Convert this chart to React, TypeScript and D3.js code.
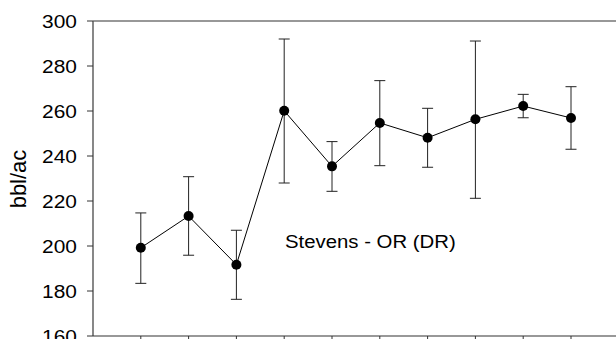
import React from "react";
import * as d3 from "d3";

// Yield by treatment, with error bar bounds
const positions = [1, 2, 3, 4, 5, 6, 7, 8, 9, 10];
const means = [199.2, 213.3, 191.7, 260.1, 235.4, 254.7, 248.1, 256.3, 262.2, 256.9];
const upper = [214.7, 230.8, 207.0, 292.0, 246.4, 273.5, 261.2, 291.1, 267.4, 270.8];
const lower = [183.4, 195.9, 176.3, 228.0, 224.3, 235.7, 235.0, 221.2, 257.0, 243.0];
const yTicks = [160, 180, 200, 220, 240, 260, 280, 300];
const yLabel = "bbl/ac";
const annotation = "Stevens - OR (DR)";

const W = 616;
const H = 339;
const left = 93;
const top = 21;
const bottom = 336;
const step = 47.8;

export default function App() {
  const x = d3.scaleLinear().domain([0, 11]).range([left, left + 11 * step]);
  const y = d3.scaleLinear().domain([160, 300]).range([bottom, top]);
  const line = d3
    .line<number>()
    .x((_, i) => x(positions[i]))
    .y((d) => y(d));
  const font = "'Liberation Sans', Arial, sans-serif";
  const sx = 1.1;

  return (
    <svg
      width={W}
      height={H}
      style={{ position: "absolute", left: 0, top: 0, background: "#fff" }}
      fontFamily={font}
    >
      {/* frame: top and left edges, bottom axis */}
      <line x1={left} x2={W} y1={top} y2={top} stroke="#333" strokeWidth={1.2} />
      <line x1={left} x2={left} y1={top} y2={bottom} stroke="#555" strokeWidth={1.4} />
      <line x1={left} x2={W} y1={bottom} y2={bottom} stroke="#333" strokeWidth={1.2} />

      {/* y axis ticks and labels */}
      {yTicks.map((t) => (
        <g key={t}>
          <line x1={left - 6} x2={left} y1={y(t)} y2={y(t)} stroke="#333" strokeWidth={1} />
          <text
            transform={`translate(${left - 16},${y(t)}) scale(${sx},1)`}
            textAnchor="end"
            dy="0.35em"
            fontSize={19}
            fill="#000"
          >
            {t}
          </text>
        </g>
      ))}

      {/* x axis ticks */}
      {positions.map((p) => (
        <line key={p} x1={x(p)} x2={x(p)} y1={bottom} y2={bottom + 6} stroke="#333" strokeWidth={1} />
      ))}

      {/* y label */}
      <text
        transform="translate(26,179) rotate(-90)"
        textAnchor="middle"
        fontSize={22}
        fill="#000"
      >
        {yLabel}
      </text>

      {/* error bars */}
      {positions.map((p, i) => (
        <g key={p} stroke="#222" strokeWidth={1}>
          <line x1={x(p)} x2={x(p)} y1={y(upper[i])} y2={y(lower[i])} />
          <line x1={x(p) - 5.5} x2={x(p) + 5.5} y1={y(upper[i])} y2={y(upper[i])} />
          <line x1={x(p) - 5.5} x2={x(p) + 5.5} y1={y(lower[i])} y2={y(lower[i])} />
        </g>
      ))}

      {/* mean line and markers */}
      <path d={line(means) || ""} fill="none" stroke="#000" strokeWidth={1} />
      {positions.map((p, i) => (
        <circle key={p} cx={x(p)} cy={y(means[i])} r={5} fill="#000" />
      ))}

      <text
        transform={`translate(285,248) scale(${sx},1)`}
        fontSize={18.5}
        fill="#000"
      >
        {annotation}
      </text>
    </svg>
  );
}
